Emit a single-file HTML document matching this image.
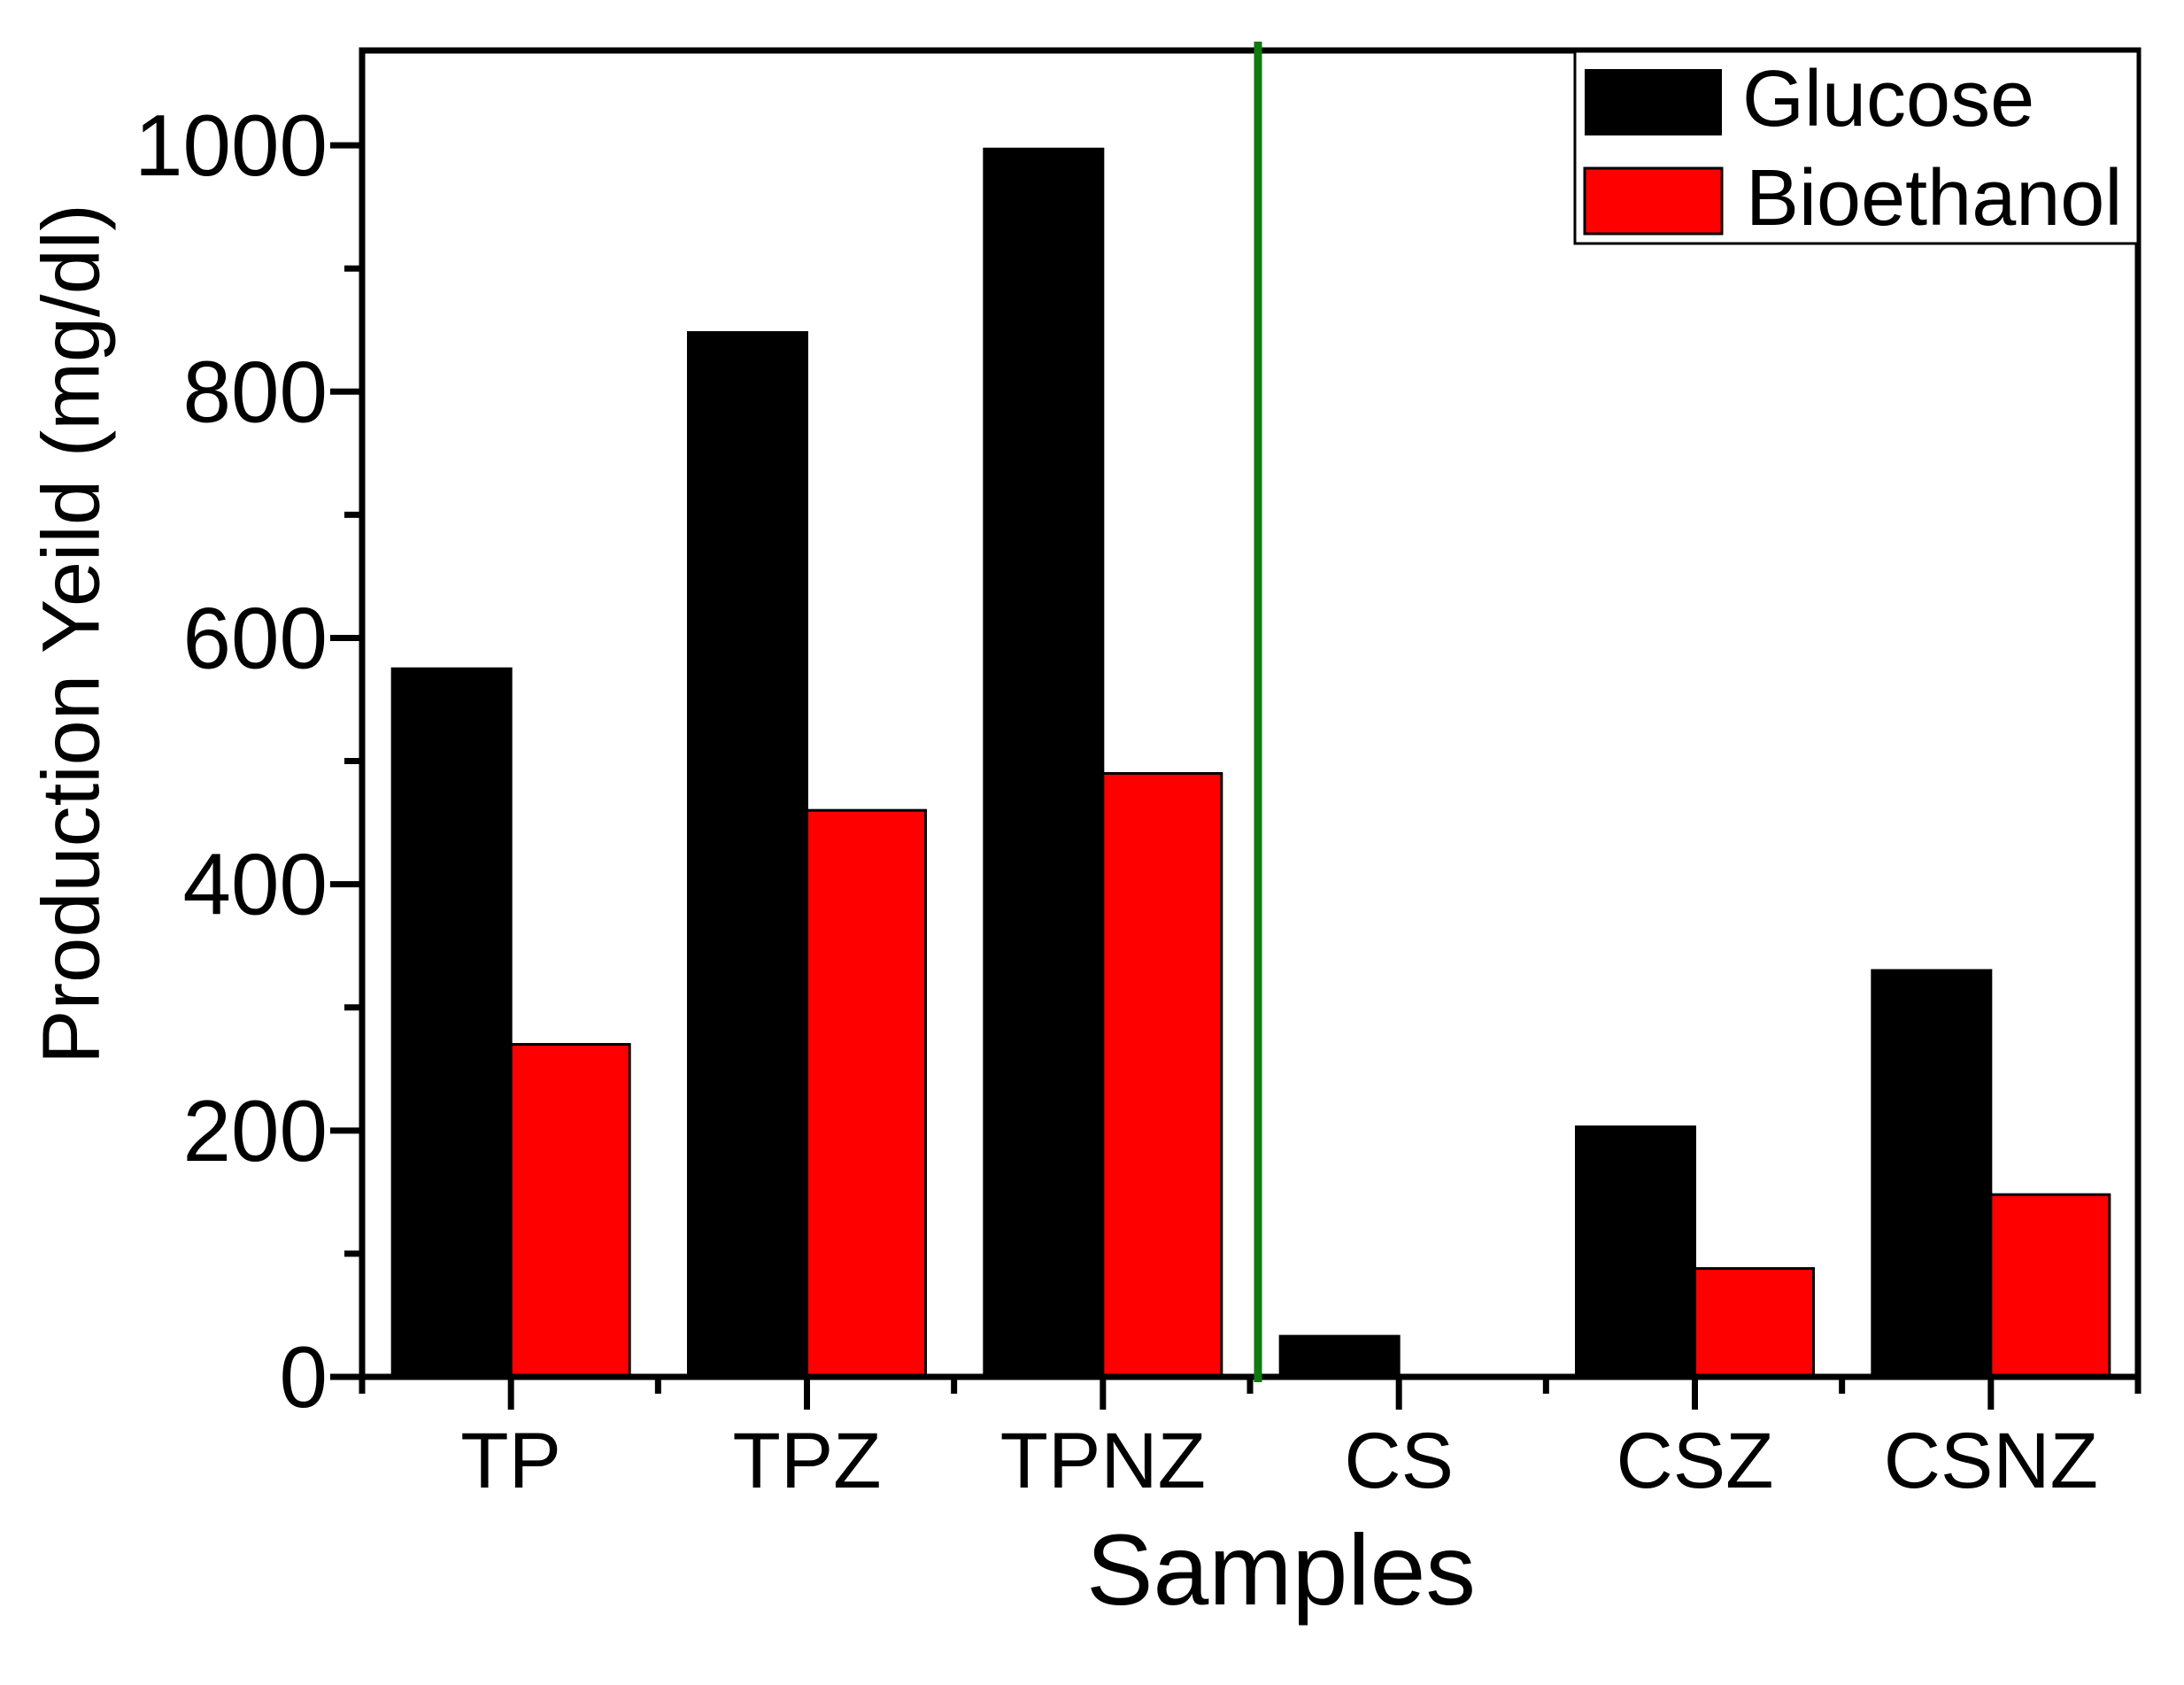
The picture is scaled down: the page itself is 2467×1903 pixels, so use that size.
<!DOCTYPE html>
<html><head><meta charset="utf-8"><style>
html,body{margin:0;padding:0;background:#fff;}
svg{display:block;font-family:"Liberation Sans",Arial,sans-serif;}
</style></head><body>
<svg id="chart" width="2467" height="1903" viewBox="0 0 2467 1903" xmlns="http://www.w3.org/2000/svg">
<rect x="0" y="0" width="2467" height="1903" fill="#fff"/>
<g id="bars"></g>
<g id="axes"></g>
<text x="87" y="716" font-size="92" text-anchor="middle" transform="rotate(-90 87 716)" dominant-baseline="middle">Production Yeild (mg/dl)</text>
<text x="1447" y="1812" font-size="113" text-anchor="middle">Samples</text>
<g>
<rect x="1779" y="58" width="636" height="217" fill="#fff" stroke="#000" stroke-width="3"/>
<rect x="1790" y="78" width="155" height="75" fill="#000"/>
<text x="1968" y="142" font-size="90">Glucose</text>
<rect x="1790" y="190" width="155" height="74" fill="#ff0000" stroke="#000" stroke-width="3"/>
<text x="1972" y="254" font-size="90">Bioethanol</text>
</g>
</svg>
<script>
const categories = ["TP","TPZ","TPNZ","CS","CSZ","CSNZ"];
const glucose = [575, 848, 997, 33, 203, 330];
const bioethanol = [270, 460, 490, 0, 88, 148];
const yTicks = [0, 200, 400, 600, 800, 1000];

const NS = "http://www.w3.org/2000/svg";
const L = 409, R = 2415, T = 57, B = 1555;
const yMax = 1077;
const y = v => B - (v / yMax) * (B - T);
const step = (R - L) / categories.length;
const xc = i => L + step * (i + 0.5) + 1;
const bw = 134;
function mk(tag, attrs, parent){ const e=document.createElementNS(NS,tag); for(const k in attrs) e.setAttribute(k,attrs[k]); parent.appendChild(e); return e; }
const bars = document.getElementById('bars');
const axes = document.getElementById('axes');
categories.forEach((c,i)=>{
  const g = mk('rect',{x:xc(i)-bw, y:y(glucose[i]), width:bw, height:B-y(glucose[i]), fill:'#000', stroke:'#000', 'stroke-width':3}, bars);
  
  
  const r = mk('rect',{x:xc(i), y:y(bioethanol[i]), width:bw, height:B-y(bioethanol[i]), fill:'#ff0000', stroke:'#000', 'stroke-width':3}, bars);
  
  
  const t = mk('text',{x:xc(i), y:1680, 'font-size':89, 'text-anchor':'middle'}, axes);
  t.textContent = c;
  
  
  mk('line',{x1:xc(i), x2:xc(i), y1:B, y2:1592, stroke:'#000','stroke-width':7}, axes);
});
for(let i=0;i<=categories.length;i++){
  const x = L + step*i;
  mk('line',{x1:x, x2:x, y1:B, y2:1574, stroke:'#000','stroke-width':7}, axes);
}
for(let v=100; v<yMax; v+=200){
  mk('line',{x1:L, x2:L-20, y1:y(v), y2:y(v), stroke:'#000','stroke-width':7}, axes);
}
yTicks.forEach(v=>{
  mk('line',{x1:L, x2:L-36, y1:y(v), y2:y(v), stroke:'#000','stroke-width':7}, axes);
  const t = mk('text',{x:370, y:y(v)+34, 'font-size':98, 'text-anchor':'end'}, axes);
  t.textContent = v;
  
  
});
const frame = mk('rect',{x:L, y:T, width:R-L, height:B-T, fill:'none', stroke:'#000','stroke-width':7}, axes);


const sep = mk('line',{x1:1421, x2:1421, y1:47, y2:1561, stroke:'#0f7a0f','stroke-width':9}, axes);


</script>
</body></html>
